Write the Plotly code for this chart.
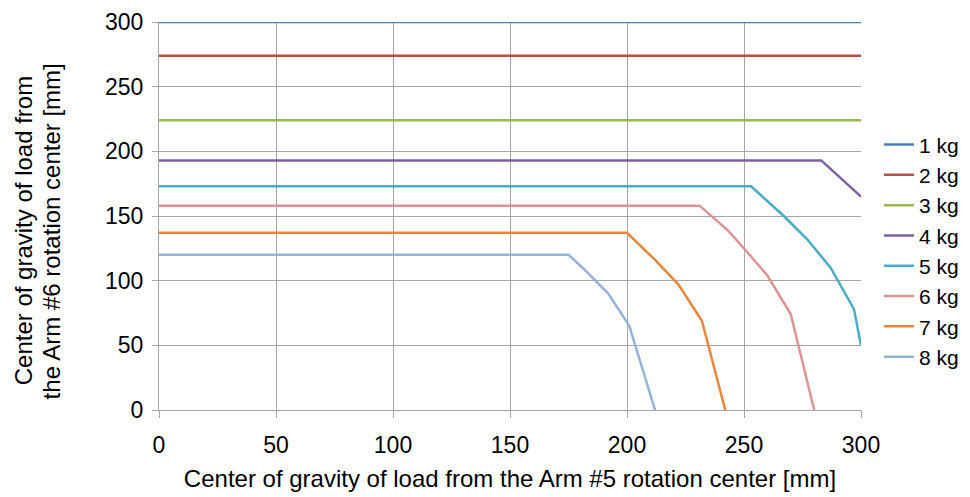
import plotly.graph_objects as go

names = ["1 kg", "2 kg", "3 kg", "4 kg", "5 kg", "6 kg", "7 kg", "8 kg"]
colors = ["#4A7EBB", "#BE4B48", "#98B954", "#7D60A0", "#4BACC6", "#D99694", "#E8873B", "#95B3D7"]

x1 = [0, 300]; y1 = [300, 300]
x2 = [0, 300]; y2 = [274, 274]
x3 = [0, 300]; y3 = [224, 224]
x4 = [0, 283, 300]; y4 = [193, 193, 165]
x5 = [0, 253, 267, 277, 287, 297, 300]; y5 = [173, 173, 150, 132, 110, 78, 50]
x6 = [0, 231, 243, 250, 260, 270, 280]; y6 = [158, 158, 139, 125, 104, 74, 0]
x7 = [0, 200, 212, 222, 232, 242]; y7 = [137, 137, 116, 97, 69, 0]
x8 = [0, 175, 181, 192, 201, 212]; y8 = [120, 120, 110, 90, 65, 0]

xs = [x1, x2, x3, x4, x5, x6, x7, x8]
ys = [y1, y2, y3, y4, y5, y6, y7, y8]

ytitle_lines = ["Center of gravity of load from", "the Arm #6 rotation center [mm]"]
xtitle = "Center of gravity of load from the Arm #5 rotation center [mm]"

fig = go.Figure()
for n, c, x, y in zip(names, colors, xs, ys):
    fig.add_trace(go.Scatter(x=x, y=y, mode="lines", name=n,
                             line=dict(color=c, width=2.5), cliponaxis=False))

font = "Liberation Sans, Arial, sans-serif"
for xpos, txt in zip([-0.1935, -0.1535], ytitle_lines):
    fig.add_annotation(text=txt, xref="paper", yref="paper", x=xpos, y=0.461,
                       xanchor="center", yanchor="middle", textangle=-90,
                       showarrow=False, font=dict(family=font, size=24, color="#000"))

fig.update_layout(
    width=970, height=497,
    margin=dict(l=151, r=117, t=14, b=95),
    paper_bgcolor="white", plot_bgcolor="white",
    font=dict(family=font, size=20, color="#000"),
    showlegend=True,
    legend=dict(x=1.0256, y=0.41, xanchor="left", yanchor="middle",
                font=dict(size=21), tracegroupgap=0, itemwidth=30),
    xaxis=dict(range=[0, 300], dtick=50, showgrid=True, gridcolor="#A6A6A6",
               gridwidth=1, showline=True, linecolor="#A6A6A6", ticks="outside",
               ticklen=7, tickcolor="#A6A6A6", zeroline=False, automargin=False,
               tickfont=dict(size=23), ticklabelstandoff=7,
               title=dict(text=xtitle, font=dict(size=24), standoff=13)),
    yaxis=dict(range=[0, 300], dtick=50, showgrid=True, gridcolor="#A6A6A6",
               gridwidth=1, showline=True, linecolor="#A6A6A6", ticks="outside",
               ticklen=6, tickcolor="#A6A6A6", zeroline=False, automargin=False,
               tickfont=dict(size=23), ticklabelstandoff=4),
)
fig.write_html("out.html")
